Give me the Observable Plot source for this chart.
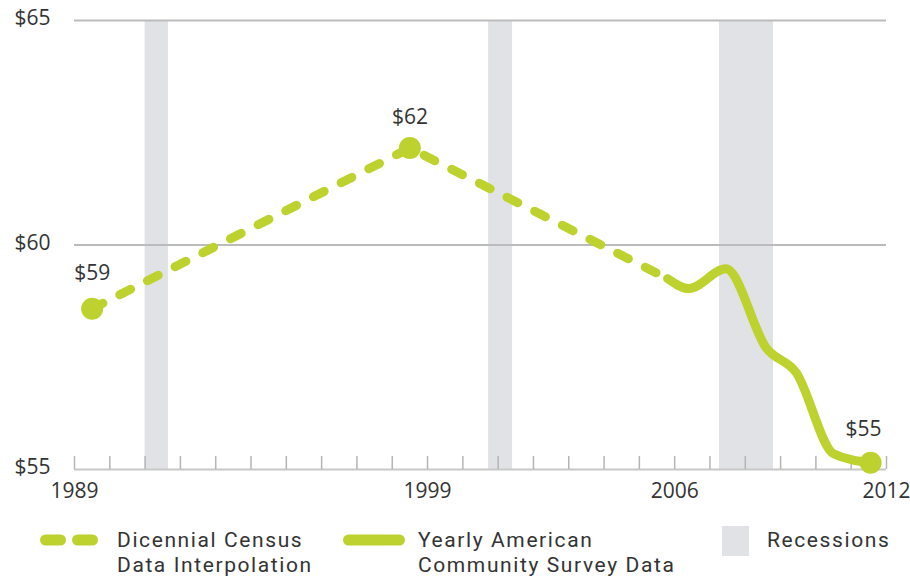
<!DOCTYPE html>
<html><head><meta charset="utf-8">
<script src="https://cdn.jsdelivr.net/npm/d3@7"></script>
<script src="https://cdn.jsdelivr.net/npm/@observablehq/plot@0.6"></script>
<style>
body{margin:0;background:#fff;font-family:"Open Sans",sans-serif;color:#333}
#wrap{position:relative;width:910px;height:578px;overflow:hidden}
#chart{position:absolute;left:0;top:0}
.leg{position:absolute;font-family:Roboto,sans-serif;font-size:21px;line-height:22px;height:22px;color:#333;white-space:nowrap;letter-spacing:1.6px}
.sw{position:absolute}
</style></head><body>
<div id="wrap"><div id="chart"></div><div id="legend"></div></div>
<script>
const years = d3.range(1989, 2013);
const yearLabels = [1989, 1999, 2006, 2012];
const yTicks = [55, 60, 65];
const gridValues = [60, 65];
const recessionStart = [1991.0, 2000.73, 2007.27];
const recessionEnd = [1991.66, 2001.41, 2008.8];
const censusYears = [1989.5, 1998.5, 2005.8];
const censusValues = [58.58, 62.16, 59.25];
const acsYears = [2005.8, 2006.4, 2007.45, 2008.6, 2009.45, 2010.5, 2011.55];
const acsValues = [59.25, 59.03, 59.47, 57.7, 57.15, 55.35, 55.15];
const labelYears = [1989.5, 1998.5, 2011.55];
const labelValues = [58.58, 62.16, 55.15];
const labelTexts = ["$59", "$62", "$55"];
const legendLines = [["Dicennial Census", "Data Interpolation"], ["Yearly American", "Community Survey Data"], ["Recessions"]];

const green = "#bed22f";
const recessions = recessionStart.map((s, i) => ({s, e: recessionEnd[i]}));
const census = censusYears.map((x, i) => ({x, y: censusValues[i]}));
const acs = acsYears.map((x, i) => ({x, y: acsValues[i]}));
const labels = labelYears.map((x, i) => ({x, y: labelValues[i], t: labelTexts[i]}));
const labelOffsets = [{dx: 0, dy: -35}, {dx: 0, dy: -31}, {dx: -7, dy: -33}];

const chart = Plot.plot({
  width: 910, height: 510,
  marginLeft: 74, marginRight: 24, marginTop: 20, marginBottom: 41,
  style: {fontFamily: "'Open Sans', sans-serif", fontSize: "21px", color: "#333", background: "#fff"},
  x: {domain: [1989, 2012], label: null},
  y: {domain: [55, 65], label: null},
  marks: [
    Plot.rectX(recessions, {x1: "s", x2: "e", y1: 55, y2: 65, fill: "#e1e2e5"}),
    Plot.ruleY(gridValues, {stroke: "#bbbbbb", strokeWidth: 2}),
    Plot.ruleY([55], {stroke: "#c8c8c8", strokeWidth: 2}),
    Plot.ruleX(years, {x: d => d, y1: 55, y2: 55, insetTop: -13, stroke: "#b5b5b5", strokeWidth: 1.5}),
    Plot.axisY({ticks: yTicks, tickSize: 0, tickPadding: 24, tickFormat: d => "$" + d, fontSize: 21, dy: -2, label: null}),
    Plot.axisX({ticks: yearLabels, tickSize: 0, tickPadding: 14, tickFormat: d => String(d), fontSize: 21, label: null}),
    Plot.line(census, {x: "x", y: "y", stroke: green, strokeWidth: 9, strokeDasharray: "12,19", strokeLinecap: "round"}),
    Plot.line(acs, {x: "x", y: "y", stroke: green, strokeWidth: 9, curve: "monotone-x", strokeLinecap: "round", strokeLinejoin: "round"}),
    Plot.dot(labels, {x: "x", y: "y", r: 11, fill: green}),
    ...labels.map((d, i) => Plot.text([d], {x: "x", y: "y", text: "t", fontSize: 21, fill: "#333", dx: labelOffsets[i].dx, dy: labelOffsets[i].dy}))
  ]
});
document.getElementById("chart").appendChild(chart);

const leg = document.getElementById("legend");
const textLefts = [117, 418, 767];
let html = `
<svg class="sw" style="left:40px;top:534px" width="62" height="12">
  <rect x="0" y="0.5" width="26" height="11" rx="5.5" fill="${green}"/>
  <rect x="32" y="0.5" width="26" height="11" rx="5.5" fill="${green}"/>
</svg>
<svg class="sw" style="left:343px;top:534px" width="64" height="12">
  <rect x="0" y="0.5" width="62" height="11" rx="5.5" fill="${green}"/>
</svg>
<svg class="sw" style="left:722px;top:526px" width="28" height="31">
  <rect x="0" y="0" width="27" height="30" fill="#e1e2e5"/>
</svg>`;
legendLines.forEach((lines, i) => {
  lines.forEach((t, j) => {
    html += `<div class="leg" style="left:${textLefts[i]}px;top:${529 + j * 25}px">${t}</div>`;
  });
});
leg.innerHTML = html;
</script>
</body></html>
